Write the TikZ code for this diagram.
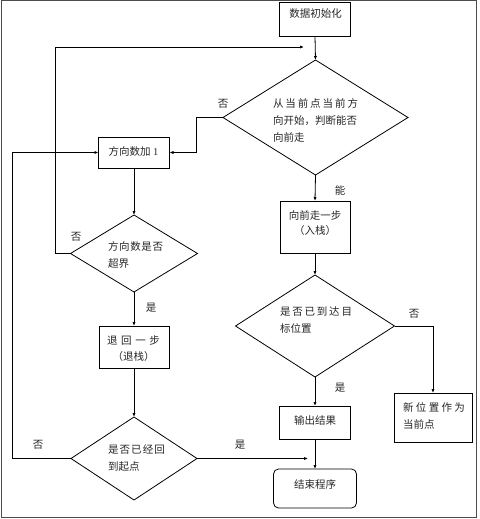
\documentclass[tikz,border=0pt]{standalone}
\usepackage{fontspec}
\setmainfont{Liberation Serif}
\newfontfamily\cjk{Noto Sans CJK SC}
\usetikzlibrary{arrows.meta,shapes.geometric}
\newcommand\spreadto[2]{\makebox[#1][s]{#2}}
\tikzset{
  every node/.style={outer sep=0pt, inner sep=0pt},
  box/.style={draw=black, line width=0.8pt, rectangle},
  dia/.style={draw=black, line width=0.8pt, diamond},
  txt/.style={font=\cjk\fontsize{10.5}{17}\selectfont, text=black!85},
  lbl/.style={font=\cjk\fontsize{10.5}{12}\selectfont, text=black!85},
  arr/.style={draw=black, line width=0.8pt, -{Latex[length=4pt,width=3.2pt]}},
  ln/.style={draw=black, line width=0.8pt},
  frame/.style={draw=black!70, line width=1pt}
}
\begin{document}
\begin{tikzpicture}[x=1pt,y=-1pt]
\useasboundingbox (0,0) rectangle (479,519);
\draw[frame] (1.5,1) rectangle (476.5,517.5);

% boxes
\node[box, minimum width=71pt, minimum height=34pt] (init) at (315,19) {};
\node[box, minimum width=71pt, minimum height=31pt] (b1) at (134,152.5) {};
\node[box, minimum width=70pt, minimum height=52pt] (walk) at (315,227) {};
\node[box, minimum width=70pt, minimum height=42pt] (back) at (134,347) {};
\node[box, minimum width=78pt, minimum height=49pt] (newpos) at (433,417.5) {};
\node[box, minimum width=71pt, minimum height=33pt] (out) at (315,422.5) {};
\node[box, rounded corners=5pt, minimum width=83pt, minimum height=39pt] (end) at (315,488.5) {};

% diamonds
\node[dia, minimum width=185pt, minimum height=115pt] (d1) at (315.5,117.5) {};
\node[dia, minimum width=127pt, minimum height=77pt] (d2) at (134,253.5) {};
\node[dia, minimum width=126pt, minimum height=83pt] (d3) at (134,458.5) {};
\node[dia, minimum width=159pt, minimum height=102pt] (d4) at (315,326) {};

% texts
\node[txt] (t-init) at (315.5,14) {数据初始化};
\node[txt] (t-b1) at (133.5,151) {方向数加 {\rmfamily 1}};
\node[txt, align=left] (t-d1) at (315.5,120.5) {\spreadto{85pt}{从\hfil 当\hfil 前\hfil 点\hfil 当\hfil 前\hfil 方}\\向开始，判断能否\\向前走};
\node[txt, align=left] (t-d2) at (135.5,255) {\spreadto{55pt}{方\hfil 向\hfil 数\hfil 是\hfil 否}\\超界};
\node[txt, align=center, font=\cjk\fontsize{10.5}{15}\selectfont] (t-walk) at (315,223) {向前走一步\\（入栈）};
\node[txt, align=center, font=\cjk\fontsize{10.5}{16}\selectfont] (t-back) at (133.5,348.5) {\spreadto{53pt}{退\hfil 回\hfil 一\hfil 步}\\（退栈）};
\node[txt, align=left] (t-d4) at (316,320.5) {\spreadto{72pt}{是\hfil 否\hfil 已\hfil 到\hfil 达\hfil 目}\\标位置};
\node[txt, align=left] (t-new) at (434,415.5) {\spreadto{62pt}{新\hfil 位\hfil 置\hfil 作\hfil 为}\\当前点};
\node[txt] (t-out) at (315,420) {输出结果};
\node[txt, align=left] (t-d3) at (136.5,458.5) {\spreadto{57pt}{是\hfil 否\hfil 已\hfil 经\hfil 回}\\到起点};
\node[txt] (t-end) at (315,484) {结束程序};

% connector labels
\node[lbl] (l1) at (223,104) {否};
\node[lbl] (l2) at (76,237) {否};
\node[lbl] (l3) at (151,308) {是};
\node[lbl] (l4) at (38,445) {否};
\node[lbl] (l5) at (240,445) {是};
\node[lbl] (l6) at (340,190) {能};
\node[lbl] (l7) at (414,314) {否};
\node[lbl] (l8) at (340,388) {是};

% helper coordinates
\coordinate (j1) at (304,47);
\coordinate (j2) at (308,458.5);
\coordinate (xa) at (196,0);
\coordinate (xb) at (55,0);
\coordinate (xc) at (12,0);

% connectors
\draw[arr] (init.south) -- (d1.north);
\draw[arr] (d1.west) -- (d1.west -| xa) |- (b1.east);
\draw[arr] (b1.south) -- (d2.north);
\draw[arr] (d2.west) -- (d2.west -| xb) |- (j1);
\draw[arr] (d2.south) -- (back.north);
\draw[arr] (back.south) -- (d3.north);
\draw[arr] (d3.west) -- (d3.west -| xc) |- (b1.west);
\draw[arr] (d3.east) -- (j2);
\draw[arr] (d1.south) -- (walk.north);
\draw[arr] (walk.south) -- (d4.north);
\draw[arr] (d4.east) -| (newpos.north);
\draw[arr] (d4.south) -- (out.north);
\draw[arr] (out.south) -- (end.north);
\end{tikzpicture}
\end{document}
